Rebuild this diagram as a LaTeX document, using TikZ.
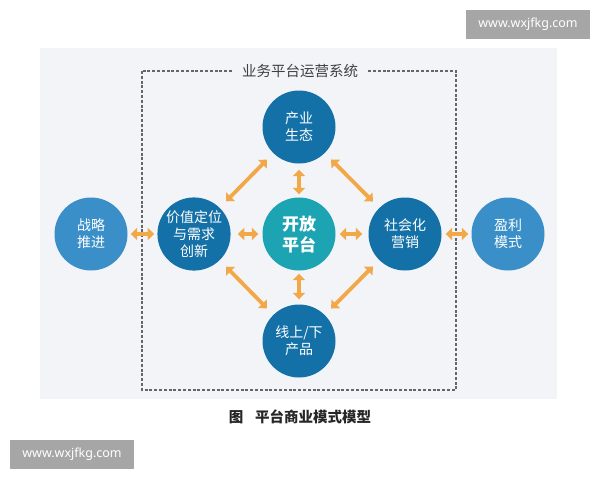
\documentclass[tikz,border=0pt]{standalone}
\usepackage{fontspec}
\setmainfont{Noto Sans CJK SC}
\newfontfamily\wmfont{Noto Sans}
\usetikzlibrary{arrows.meta}
\definecolor{panelbg}{HTML}{F2F4F8}
\definecolor{lightblue}{HTML}{3A8FC8}
\definecolor{darkblue}{HTML}{1471A8}
\definecolor{tealc}{HTML}{1DA4B2}
\definecolor{arrowc}{HTML}{F2A846}
\definecolor{wmgray}{HTML}{A6A6A6}
\definecolor{dashc}{HTML}{666666}
\tikzset{
  circ/.style={circle, minimum size=73pt, inner sep=0pt, text=white, font=\fontsize{14}{17}\selectfont, align=center},
  outer/.style={circ, fill=lightblue},
  inner/.style={circ, fill=darkblue},
  core/.style={circ, fill=tealc, font=\bfseries\fontsize{17}{21}\selectfont},
  arr/.style={draw=arrowc, line width=3.8pt, {Triangle[length=6.5pt,width=12pt]}-{Triangle[length=6.5pt,width=12pt]}},
  wm/.style={fill=wmgray, text=white, font=\wmfont\fontsize{12.5}{15}\selectfont, inner sep=0pt},
}
\begin{document}
\begin{tikzpicture}[x=1pt,y=-1pt]
\useasboundingbox (0,0) rectangle (600,480);
\fill[white] (0,0) rectangle (600,480);
\fill[panelbg] (40,48) rectangle (557,399);
\draw[dashc, line width=1.6pt, dash pattern=on 3pt off 1.8pt] (142,71) rectangle (456,390);
\node[fill=panelbg, inner xsep=9pt, inner ysep=2pt, text=black!75, font=\fontsize{14.5}{17}\selectfont] (title) at (300,71) {业务平台运营系统};

\node[outer] (strat) at (91,234) {战略\\推进};
\node[inner] (val) at (194,234) {价值定位\\与需求\\创新};
\node[core] (open) at (299,234) {开放\\平台};
\node[inner] (soc) at (405,234) {社会化\\营销};
\node[outer] (prof) at (508,234) {盈利\\模式};
\node[inner] (ind) at (299,127) {产业\\生态};
\node[inner] (prod) at (299,341) {线上/下\\产品};

\draw[arr, shorten <=3pt, shorten >=3pt] (strat) -- (val);
\draw[arr, shorten <=7pt, shorten >=4pt] (val) -- (open);
\draw[arr, shorten <=4pt, shorten >=6pt] (open) -- (soc);
\draw[arr, shorten <=4pt, shorten >=3pt] (soc) -- (prof);
\draw[arr, shorten <=6pt, shorten >=3pt] (ind) -- (open);
\draw[arr, shorten <=3pt, shorten >=5pt] (open) -- (prod);
\draw[arr, shorten <=9pt, shorten >=9pt] (val) -- (ind);
\draw[arr, shorten <=9pt, shorten >=9pt] (ind) -- (soc);
\draw[arr, shorten <=9pt, shorten >=9pt] (val) -- (prod);
\draw[arr, shorten <=9pt, shorten >=9pt] (soc) -- (prod);

\node[font=\bfseries\fontsize{14.5}{17}\selectfont, text=black!85] (cap) at (300,417) {图\hspace{0.8em}平台商业模式模型};

\node[wm, minimum width=124pt, minimum height=29pt] (wm1) at (528,24.5) {www.wxjfkg.com};
\node[wm, minimum width=124pt, minimum height=29pt] (wm2) at (72,454.5) {www.wxjfkg.com};
\end{tikzpicture}
\end{document}
